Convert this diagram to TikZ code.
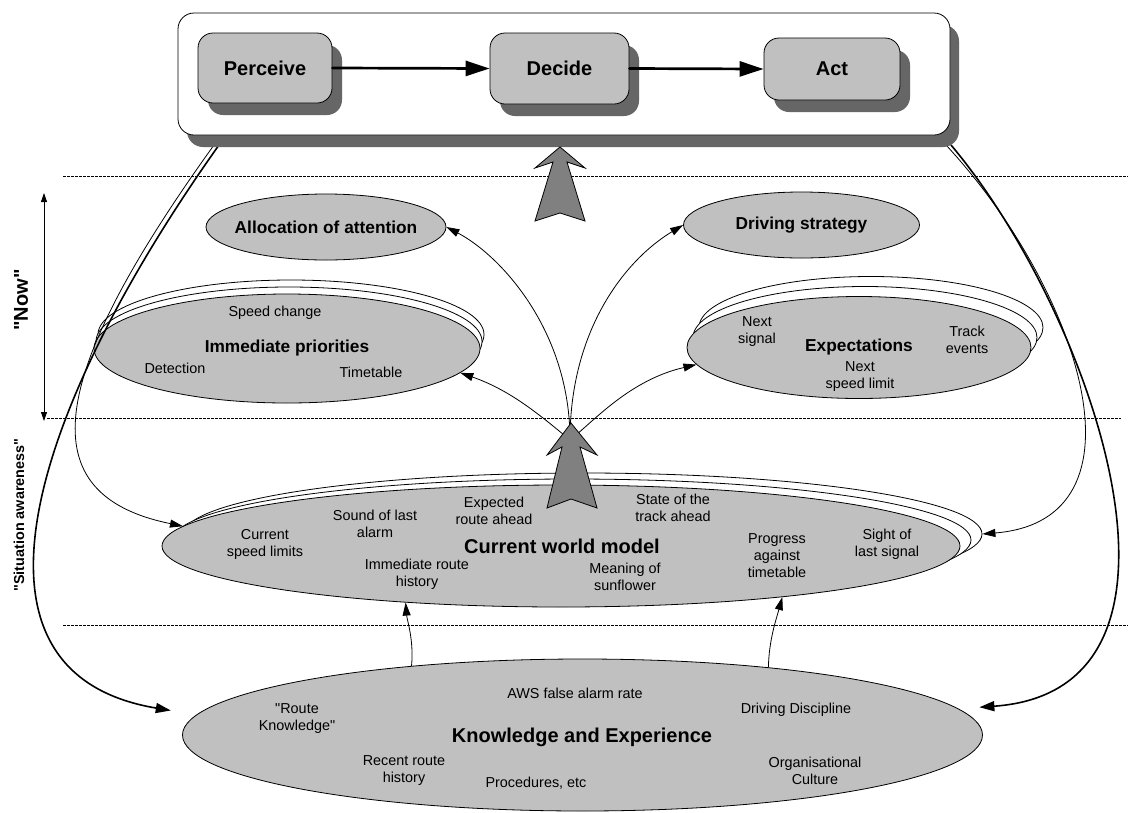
\documentclass[tikz,border=0pt]{standalone}
\usepackage{fontspec}
\setmainfont{Liberation Sans}[Ligatures=TeXOff]
\usetikzlibrary{shapes.geometric,arrows.meta,shadows}
\definecolor{ellgray}{HTML}{C0C0C0}
\definecolor{shadowgray}{HTML}{666666}
\definecolor{blockgray}{HTML}{808080}
\begin{document}
\begin{tikzpicture}[x=1pt,y=-1pt,
  ell/.style={ellipse, draw=black, fill=ellgray, line width=0.8pt, inner sep=0pt},
  stk/.style={ellipse, draw=black, fill=white, line width=0.8pt, inner sep=0pt},
  lbl/.style={font=\fontsize{14.4}{17}\selectfont, align=center, inner sep=0pt},
  ttl/.style={font=\bfseries\fontsize{17.3}{20}\selectfont, inner sep=0pt},
  bigttl/.style={font=\bfseries\fontsize{20}{24}\selectfont, inner sep=0pt},
  pbox/.style={draw=black, line width=0.8pt, fill=ellgray, rounded corners=15pt, inner sep=0pt,
    font=\bfseries\fontsize{20}{24}\selectfont,
    drop shadow={shadow xshift=10pt, shadow yshift=-12pt, fill=shadowgray, opacity=1}},
  outerbox/.style={draw=black, line width=0.8pt, fill=white, rounded corners=16pt, inner sep=0pt,
    drop shadow={shadow xshift=9pt, shadow yshift=-12pt, fill=shadowgray, opacity=1}},
  sepline/.style={dash pattern=on 2.5pt off 1.5pt, line width=0.6pt},
  flowarr/.style={line width=2.7pt, line cap=round, -{Triangle[length=24pt,width=15pt]}},
  thinarr/.style={line width=0.8pt, -{Triangle[length=13pt,width=8pt]}},
  thickarr/.style={line width=1.6pt, -{Triangle[length=15pt,width=10pt]}},
  blk/.style={draw=black, fill=blockgray, line width=0.8pt, line join=miter}
]
\useasboundingbox (0,0) rectangle (1128,812);
\fill[white] (0,0) rectangle (1128,812);

% separators
\draw[sepline] (63,176) -- (1128,176);
\draw[sepline] (47,418) -- (1121,418);
\draw[sepline] (63,625) -- (1128,625);

% "Now" arrow and side labels
\coordinate (nowtop) at (44,193);
\coordinate (nowbot) at (44,421);
\draw[line width=0.8pt, {Triangle[length=9pt,width=6pt]}-{Triangle[length=9pt,width=6pt]}] (nowtop) -- (nowbot);
\node[bigttl, rotate=90] (nowlbl) at (21,300) {"Now"};
\node[font=\bfseries\fontsize{14.4}{17}\selectfont, inner sep=0pt, rotate=90] (salbl) at (19,515) {"Situation awareness"};

% upper ellipses
\node[ell, minimum width=240pt, minimum height=66pt] (alloc) at (326,227) {};
\node[ttl] (allocT) at (alloc) {Allocation of attention};
\node[ell, minimum width=236pt, minimum height=66pt] (drive) at (801.5,225) {};
\node[ttl] (driveT) at (drive) {Driving strategy};

% immediate priorities
\node[stk, minimum width=386pt, minimum height=109pt] (ipB) at (291,334.5) {};
\node[stk, minimum width=386pt, minimum height=109pt] (ipA) at (289,341.5) {};
\node[ell, minimum width=386pt, minimum height=109pt] (ip) at (287,348.5) {};
\node[lbl] (ip1) at (275,313) {Speed change};
\node[ttl] (ipT) at (287,348) {Immediate priorities};
\node[lbl] (ip2) at (175,368) {Detection};
\node[lbl] (ip3) at (371,372) {Timetable};

% expectations
\node[stk, minimum width=344pt, minimum height=102pt] (exB) at (871,327.5) {};
\node[stk, minimum width=344pt, minimum height=102pt] (exA) at (865,337.5) {};
\node[ell, minimum width=344pt, minimum height=102pt] (ex) at (859,347.5) {};
\node[lbl] (ex1) at (757,332) {Next\\signal};
\node[ttl] (exT) at (859,347) {Expectations};
\node[lbl] (ex2) at (967,340) {Track\\events};
\node[lbl] (ex3) at (860,377) {Next\\speed limit};

% current world model
\node[stk, minimum width=798pt, minimum height=122pt] (cwmB) at (583,534) {};
\node[stk, minimum width=798pt, minimum height=122pt] (cwmA) at (572,540) {};
\node[ell, minimum width=798pt, minimum height=122pt] (cwm) at (561,546) {};
\node[lbl] (c1) at (265,544) {Current\\speed limits};
\node[lbl] (c2) at (375,524) {Sound of last\\alarm};
\node[lbl] (c3) at (494,511) {Expected\\route ahead};
\node[bigttl] (cwmT) at (562,546) {Current world model};
\node[lbl] (c4) at (673,508) {State of the\\track ahead};
\node[lbl] (c5) at (417,574) {Immediate route\\history};
\node[lbl] (c6) at (625,577) {Meaning of\\sunflower};
\node[lbl] (c7) at (777,556) {Progress\\against\\timetable};
\node[lbl] (c8) at (887,544) {Sight of\\last signal};

% knowledge and experience
\node[ell, minimum width=800pt, minimum height=152pt] (ke) at (582.5,735) {};
\node[lbl] (k1) at (575,693) {AWS false alarm rate};
\node[lbl] (k2) at (297,719) {"Route\\Knowledge"};
\node[lbl] (k3) at (796,710) {Driving Discipline};
\node[bigttl] (keT) at (582,737) {Knowledge and Experience};
\node[lbl] (k4) at (404,771) {Recent route\\history};
\node[lbl] (k5) at (536,783) {Procedures, etc};
\node[lbl] (k6) at (815,771) {Organisational\\Culture};

% connectors from K&E to current world model
\draw[thinarr] (ke.158) .. controls (414,640) and (407,620) .. (cwm.200);
\draw[thinarr] (ke.20) .. controls (769,640) and (776,620) .. (cwm.-13.5);

% connectors fanning out of the world model
\coordinate (fork) at (570,440);
\draw[thinarr] (fork) .. controls (570,330) and (500,255) .. (alloc.east);
\draw[thinarr] (fork) .. controls (570,330) and (625,260) .. (drive.west);
\draw[thinarr] (fork) .. controls (540,415) and (510,390) .. (ip.-8);
\draw[thinarr] (fork) .. controls (595,420) and (630,380) .. (ex.186);

% side connectors from the top box
\coordinate (frameBL1) at (214,145);
\coordinate (frameBL2) at (219,145);
\coordinate (frameBR1) at (946,145);
\coordinate (frameBR2) at (951,145);
\draw[thinarr] (frameBL1) .. controls (45,380) and (30,495) .. (cwm.177);
\draw[thickarr, shorten >=26pt] (frameBL2) .. controls (40,397) and (-60,672) .. (ke.177.3);
\draw[thinarr] (frameBR1) .. controls (1080,290) and (1155,520) .. (cwmB.east);
\draw[thickarr, shorten >=21pt] (frameBR2) .. controls (1090,310) and (1225,690) .. (ke.4.1);

% top box with perceive - decide - act
\node[outerbox, minimum width=772pt, minimum height=122pt] (topbox) at (564,74) {};
\node[pbox, minimum width=134pt, minimum height=70pt] (perceive) at (265,68) {Perceive};
\node[pbox, minimum width=139pt, minimum height=71pt] (decide) at (559.5,68.5) {Decide};
\node[pbox, minimum width=136pt, minimum height=62pt] (act) at (832,69) {Act};
\draw[flowarr] (perceive.east) -- (decide.west);
\draw[flowarr] (decide.east) -- (act.west);

% block arrows
\draw[blk] (560,147) -- (585,168) -- (567,162) -- (585,221) -- (560,213) -- (535,221) -- (553,162) -- (535,168) -- cycle;
\draw[blk] (571,423) -- (597,455) -- (580,447) -- (597,508) -- (571,499) -- (547,508) -- (562,447) -- (547,455) -- cycle;
\end{tikzpicture}
\end{document}
